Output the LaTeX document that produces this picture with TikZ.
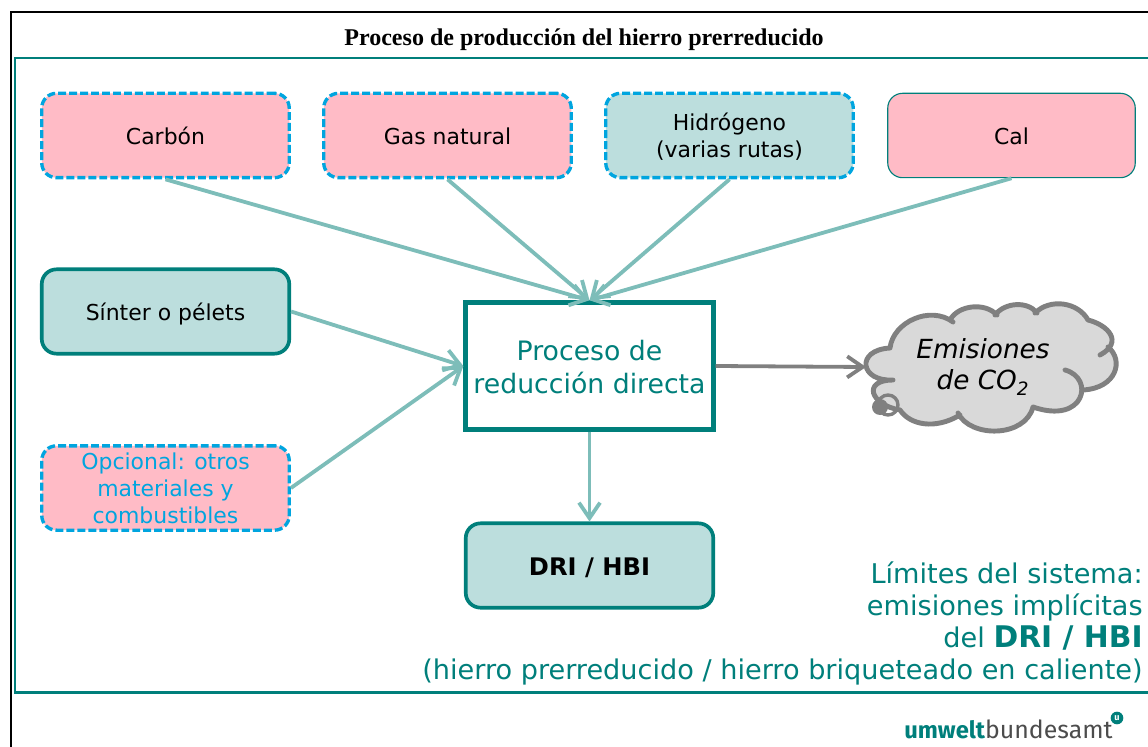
\documentclass[tikz,border=0pt]{standalone}
\usepackage{fontspec}
\setmainfont{DejaVu Sans}
\newfontfamily\titlefont{Liberation Serif}
\newfontfamily\logofont{Fira Sans}
\usetikzlibrary{arrows.meta}
\definecolor{uba}{HTML}{007F7B}
\definecolor{ubalight}{HTML}{BCDEDD}
\definecolor{ubaarrow}{HTML}{7DBDB9}
\definecolor{ubapink}{HTML}{FFBBC6}
\definecolor{ubacyan}{HTML}{00A5DF}
\definecolor{ubagray}{HTML}{808080}
\tikzset{
	boxbase/.style={rounded corners=10.5pt, minimum width=176pt, minimum height=60pt, inner sep=0pt, align=center, font=\fontsize{15.6}{19.2}\selectfont},
	optbox/.style={boxbase, draw=ubacyan, line width=2.4pt, dash pattern=on 5.6pt off 2.2pt},
	fixbox/.style={boxbase, draw=uba, line width=2.6pt},
	feed/.style={draw=ubaarrow, line width=2.7pt, -{Straight Barb[length=11pt,width=15pt,line width=2.7pt]}},
	limits/.style={text=uba, anchor=base east, inner sep=0pt, font=\fontsize{19.3}{23}\selectfont}
}
\newcommand{\lowstrut}{\rule[-.18em]{0pt}{1.18em}}
\newcommand{\cloudlobes}[1]{
	(890,348) .. controls (893,322) and (930,305) .. (953,322) #1
	(950,320) .. controls (958,305) and (985,302) .. (997,315) #1
	(995,315) .. controls (1005,302) and (1028,301) .. (1037,313) #1
	(1035,313) .. controls (1050,298) and (1078,302) .. (1088,320) #1
	(1088,320) .. controls (1108,325) and (1124,342) .. (1100,355) #1
	(1108,347) .. controls (1124,360) and (1117,388) .. (1083,390) #1
	(1065,370) .. controls (1095,378) and (1085,425) .. (1033,407) #1
	(1033,407) .. controls (1025,438) and (970,438) .. (958,413) #1
	(960,415) .. controls (935,430) and (910,425) .. (900,410) #1
	(900,410) .. controls (870,405) and (862,380) .. (893,380) #1
	(893,380) .. controls (860,382) and (855,350) .. (890,348)
}
\begin{document}
\begin{tikzpicture}[x=0.025cm, y=-0.025cm]
	\useasboundingbox (0,0) rectangle (1148,747);
	% frames
	\draw[black, line width=1.5pt] (1148,12) -- (11,12) -- (11,747);
	\draw[uba, line width=1.7pt] (1148,58) -- (15,58) -- (15,692.5) -- (1148,692.5);
	\node[font=\titlefont\bfseries\fontsize{17.1}{20}\selectfont] (title) at (584,39.5) {Proceso de producción del hierro prerreducido};

	% inputs
	\node[optbox, fill=ubapink] (carbon) at (165.5,135.5) {\lowstrut Carbón};
	\node[optbox, fill=ubapink] (gas) at (447.5,135.5) {\lowstrut Gas natural};
	\node[optbox, fill=ubalight] (hidro) at (729.5,135.5) {\lowstrut Hidrógeno\\\lowstrut (varias rutas)};
	\node[boxbase, draw=uba, line width=0.8pt, fill=ubapink] (cal) at (1011.5,135.5) {\lowstrut Cal};
	\node[fixbox, fill=ubalight] (sinter) at (165.5,311.5) {\lowstrut Sínter o pélets};
	\node[optbox, fill=ubapink, text=ubacyan] (opc) at (165.5,488) {\lowstrut Opcional: otros\\\lowstrut materiales y\\\lowstrut combustibles};

	% process and product
	\node[draw=uba, line width=3.4pt, fill=white, text=uba, minimum width=176pt, minimum height=90pt, inner sep=0pt, align=center, font=\fontsize{19}{23}\selectfont] (proc) at (589.5,366) {\lowstrut Proceso de\\\lowstrut reducción directa};
	\node[fixbox, fill=ubalight, font=\bfseries\fontsize{17.2}{19.2}\selectfont] (dri) at (589.5,565.5) {\lowstrut DRI / HBI};

	% cloud
	\fill[fill=black!15] \cloudlobes{--};
	\draw[ubagray, line width=3.5pt, line cap=round] \cloudlobes{};
	\node[font=\itshape\fontsize{18.7}{22.5}\selectfont, align=center, inner sep=0pt] (co2) at (983,363.5) {\lowstrut Emisiones\\\lowstrut de CO\textsubscript{2}};
	\fill[ubagray] (880,407) circle (8);
	\draw[ubagray, line width=2.4pt] (888,405) circle (10);
	\coordinate (cloudin) at (866,367);

	% connectors
	\draw[feed] (carbon.south) -- (proc.north);
	\draw[feed] (gas.south) -- (proc.north);
	\draw[feed] (hidro.south) -- (proc.north);
	\draw[feed] (cal.south) -- (proc.north);
	\draw[feed] (sinter.east) -- (proc.west);
	\draw[feed] (opc.east) -- (proc.west);
	\draw[feed] (proc.south) -- (dri.north);
	\draw[feed, draw=ubagray] (proc.east) -- (cloudin);

	% limits
	\node[limits] (lim1) at (1143,583) {Límites del sistema:};
	\node[limits] (lim2) at (1143,615) {emisiones implícitas};
	\node[limits] (lim3) at (1143,647) {del {\bfseries\fontsize{21.2}{23}\selectfont DRI / HBI}};
	\node[limits] (lim4) at (1143,679) {(hierro prerreducido / hierro briqueteado en caliente)};

	% logo
	\node[anchor=base west, inner sep=0pt, font=\logofont\fontsize{17.7}{19}\selectfont, text=black!70] (logo) at (904,738) {\textcolor{uba}{\bfseries\fontsize{16.9}{19}\selectfont umwelt}bundesamt};
	\node[circle, fill=uba, text=white, inner sep=0pt, minimum size=9pt, font=\logofont\bfseries\fontsize{6.5}{7}\selectfont] (logou) at (1117,718) {u};
\end{tikzpicture}
\end{document}
